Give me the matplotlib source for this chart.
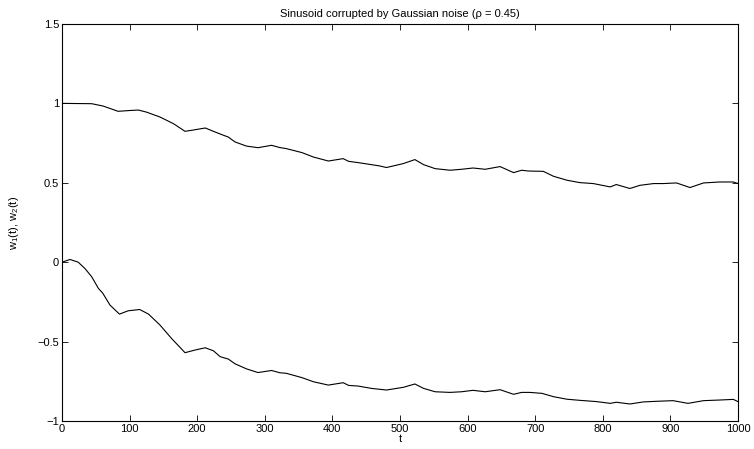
import matplotlib
matplotlib.use("Agg")
import matplotlib.pyplot as plt

plt.rcParams["font.family"] = ["Liberation Sans", "DejaVu Sans"]
plt.rcParams["font.size"] = 8
plt.rcParams["mathtext.fontset"] = "custom"
plt.rcParams["mathtext.rm"] = "Liberation Sans"
plt.rcParams["mathtext.it"] = "Liberation Sans"

# weight trajectories
t1 = [0, 44, 61, 83, 100, 113, 125, 145, 165, 182, 194, 212, 224, 239, 246,
      256, 273, 290, 310, 322, 332, 355, 372, 394, 416, 424, 438, 458, 470,
      480, 505, 522, 535, 552, 574, 591, 608, 626, 648, 668, 680, 690, 712,
      727, 747, 766, 786, 811, 820, 840, 855, 875, 889, 909, 929, 949, 973,
      993, 1000]
w1 = [1.0, 0.998, 0.983, 0.95, 0.955, 0.958, 0.945, 0.914, 0.872, 0.824,
      0.832, 0.845, 0.824, 0.799, 0.788, 0.757, 0.731, 0.721, 0.736, 0.722,
      0.715, 0.690, 0.662, 0.637, 0.652, 0.635, 0.627, 0.614, 0.606, 0.596,
      0.621, 0.646, 0.614, 0.589, 0.579, 0.585, 0.593, 0.585, 0.602, 0.564,
      0.579, 0.574, 0.572, 0.541, 0.516, 0.501, 0.495, 0.474, 0.489, 0.464,
      0.484, 0.495, 0.495, 0.499, 0.470, 0.499, 0.505, 0.505, 0.495]

t2 = [0, 12, 24, 34, 44, 54, 60, 71, 85, 98, 115, 128, 145, 162, 182, 197,
      212, 224, 234, 246, 256, 273, 290, 310, 322, 332, 355, 372, 394, 416,
      424, 438, 458, 480, 505, 522, 535, 552, 574, 591, 608, 626, 648, 668,
      680, 692, 710, 727, 747, 766, 791, 811, 820, 840, 860, 880, 904, 926,
      949, 973, 993, 1000]
w2 = [0.0, 0.017, 0.0, -0.040, -0.092, -0.166, -0.193, -0.270, -0.327,
      -0.306, -0.298, -0.327, -0.396, -0.480, -0.570, -0.553, -0.539, -0.558,
      -0.595, -0.610, -0.640, -0.672, -0.695, -0.682, -0.696, -0.700, -0.727,
      -0.753, -0.774, -0.759, -0.776, -0.780, -0.795, -0.805, -0.788, -0.767,
      -0.795, -0.816, -0.820, -0.816, -0.807, -0.816, -0.803, -0.832, -0.820,
      -0.820, -0.826, -0.847, -0.863, -0.870, -0.878, -0.889, -0.882, -0.893,
      -0.880, -0.876, -0.872, -0.889, -0.872, -0.868, -0.864, -0.878]

x_ticks = [0, 100, 200, 300, 400, 500, 600, 700, 800, 900, 1000]
y_ticks = [-1, -0.5, 0, 0.5, 1, 1.5]
y_labels = ["\u22121", "\u22120.5", "0", "0.5", "1", "1.5"]

fig = plt.figure(figsize=(7.54, 4.49), dpi=100)
ax = fig.add_axes([0.0822, 0.0624, 0.8966, 0.8842])

ax.plot(t1, w1, color="black", linewidth=0.8)
ax.plot(t2, w2, color="black", linewidth=0.8)

ax.set_xlim(0, 1000)
ax.set_ylim(-1, 1.5)
ax.set_xticks(x_ticks)
ax.set_yticks(y_ticks)
ax.set_yticklabels(y_labels)
ax.tick_params(direction="in", length=4, width=0.6, top=True, right=True, pad=2)
for side in ax.spines.values():
    side.set_linewidth(0.8)

ax.set_title("Sinusoid corrupted by Gaussian noise (\u03c1 = 0.45)", fontsize=8, pad=5)
ax.set_xlabel("t", labelpad=0)
ax.set_ylabel("w$_{\\rm 1}$(t), w$_{\\rm 2}$(t)", labelpad=12)

fig.savefig("out.png", dpi=100)
